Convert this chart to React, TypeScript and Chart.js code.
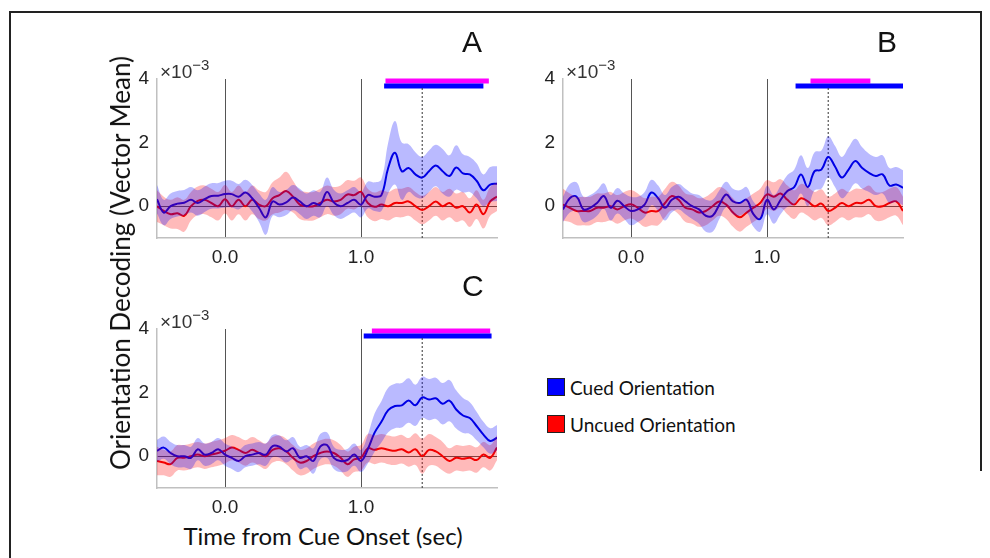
import React, { useEffect, useRef } from 'react';
import { Chart, registerables } from 'chart.js';
Chart.register(...registerables);

// time axis (sec)
const TIME = [-0.5,-0.45,-0.4,-0.35,-0.3,-0.25,-0.2,-0.15,-0.1,-0.05,0,0.05,0.1,0.15,0.2,0.25,0.3,0.35,0.4,0.45,0.5,0.55,0.6,0.65,0.7,0.75,0.8,0.85,0.9,0.95,1,1.05,1.1,1.15,1.2,1.25,1.3,1.35,1.4,1.45,1.5,1.55,1.6,1.65,1.7,1.75,1.8,1.85,1.9,1.95,2];

// Panel A (x10^-3)
const A_CUED = [0.22,-0.2,0.0,0.08,0.11,0.2,0.1,0.22,0.32,0.33,0.38,0.38,0.3,0.43,0.25,-0.05,-0.35,0.15,0.05,0.12,0.27,0.15,0.0,0.1,0.05,0.45,0.12,0.0,0.1,0.2,0.05,0.35,0.3,0.35,1.2,1.68,1.1,1.2,1.0,0.9,1.1,1.28,1.1,0.95,1.22,1.03,1.0,0.8,0.5,0.68,0.71];
const A_CUED_ERR = [0.45,0.4,0.4,0.4,0.4,0.4,0.4,0.4,0.4,0.4,0.42,0.42,0.4,0.4,0.42,0.45,0.55,0.45,0.4,0.4,0.4,0.4,0.4,0.4,0.4,0.45,0.4,0.4,0.4,0.4,0.4,0.42,0.45,0.5,0.8,1.0,0.9,0.75,0.7,0.65,0.65,0.65,0.7,0.65,0.7,0.6,0.55,0.55,0.5,0.55,0.55];
const A_UNCUED = [0.0,-0.15,-0.25,-0.22,-0.3,0.0,0.17,0.2,0.1,0.0,0.22,0.0,0.2,0.0,0.2,0.05,0.0,0.25,0.35,0.48,0.3,0.05,0.0,0.0,0.1,0.2,0.15,0.2,0.37,0.35,0.45,0.1,-0.02,0.05,0.0,0.1,0.1,0.15,0.0,-0.12,0.0,0.15,0.0,0.1,-0.05,0.0,-0.2,0.05,-0.25,0.15,0.3];
const A_UNCUED_ERR = [0.5,0.45,0.45,0.5,0.5,0.45,0.45,0.45,0.45,0.45,0.45,0.45,0.45,0.45,0.45,0.45,0.45,0.5,0.55,0.6,0.5,0.45,0.45,0.45,0.45,0.45,0.45,0.45,0.45,0.45,0.45,0.45,0.45,0.45,0.45,0.45,0.45,0.45,0.45,0.45,0.45,0.45,0.45,0.45,0.45,0.45,0.45,0.45,0.45,0.45,0.45];

// Panel B
const B_CUED = [-0.1,0.25,0.3,-0.1,-0.05,0.1,0.32,-0.05,0.17,0.0,-0.15,-0.1,0.05,0.43,0.25,-0.05,0.2,0.3,0.15,0.0,-0.1,-0.3,-0.3,0.05,0.37,0.15,0.1,0.2,-0.25,-0.4,0.2,-0.1,0.2,0.48,0.6,1.0,0.6,1.1,1.15,1.55,1.25,0.9,1.15,1.42,1.2,1.05,0.95,1.0,0.65,0.68,0.58];
const B_CUED_ERR = [0.4,0.45,0.45,0.4,0.4,0.4,0.4,0.4,0.4,0.4,0.45,0.4,0.4,0.4,0.4,0.4,0.4,0.4,0.4,0.4,0.45,0.5,0.5,0.45,0.4,0.4,0.4,0.4,0.4,0.4,0.45,0.45,0.45,0.5,0.55,0.6,0.6,0.6,0.6,0.65,0.65,0.65,0.7,0.7,0.65,0.6,0.6,0.6,0.55,0.55,0.55];
const B_UNCUED = [0.05,-0.05,-0.15,-0.15,-0.15,-0.05,-0.05,0.0,-0.1,0.0,0.06,-0.05,-0.2,-0.15,-0.15,0.1,0.32,0.2,-0.05,-0.1,-0.2,-0.15,0.0,0.15,0.05,-0.2,-0.35,-0.2,-0.05,0.1,0.37,0.3,0.4,0.2,0.05,0.25,0.15,0.0,0.08,-0.15,-0.05,0.1,0.0,0.1,0.1,0.2,0.0,0.0,0.1,0.15,-0.15];
const B_UNCUED_ERR = [0.5,0.45,0.45,0.45,0.45,0.45,0.45,0.45,0.45,0.45,0.45,0.45,0.45,0.45,0.45,0.45,0.45,0.45,0.45,0.45,0.45,0.45,0.45,0.45,0.45,0.45,0.45,0.45,0.45,0.45,0.45,0.45,0.45,0.45,0.45,0.45,0.45,0.45,0.45,0.45,0.45,0.45,0.45,0.45,0.45,0.45,0.45,0.45,0.45,0.45,0.45];

// Panel C
const C_CUED = [0.17,0.27,0.1,0.0,0.0,-0.05,0.22,0.05,0.1,0.22,0.05,-0.05,-0.15,0.0,0.05,0.1,0.05,0.32,0.3,0.15,0.25,-0.05,0.0,-0.15,0.3,0.35,-0.05,-0.15,-0.12,0.05,-0.15,0.22,0.74,1.08,1.45,1.58,1.6,1.75,1.6,1.85,1.78,1.82,1.65,1.75,1.47,1.28,1.2,0.95,0.68,0.48,0.58];
const C_CUED_ERR = [0.35,0.35,0.35,0.35,0.35,0.35,0.35,0.35,0.35,0.35,0.35,0.35,0.35,0.35,0.35,0.35,0.35,0.35,0.35,0.35,0.35,0.35,0.35,0.4,0.4,0.4,0.35,0.35,0.35,0.35,0.35,0.45,0.6,0.65,0.7,0.7,0.7,0.7,0.65,0.65,0.65,0.65,0.65,0.65,0.6,0.55,0.5,0.45,0.4,0.4,0.4];
const C_UNCUED = [-0.15,-0.2,-0.25,-0.05,-0.05,0.0,0.05,0.0,0.05,0.1,0.17,0.27,0.2,0.1,0.2,0.1,0.0,0.2,0.25,0.15,-0.05,-0.2,-0.15,0.0,0.1,0.15,0.1,-0.05,-0.25,-0.1,-0.05,0.25,0.2,0.25,0.2,0.17,0.22,0.12,0.22,0.0,0.2,0.15,0.0,-0.15,-0.05,-0.08,-0.05,-0.12,0.05,-0.05,0.27];
const C_UNCUED_ERR = [0.45,0.4,0.4,0.4,0.4,0.4,0.4,0.4,0.4,0.4,0.4,0.4,0.4,0.4,0.4,0.4,0.4,0.4,0.4,0.4,0.4,0.4,0.4,0.4,0.4,0.4,0.4,0.4,0.4,0.4,0.4,0.45,0.45,0.45,0.45,0.45,0.45,0.45,0.5,0.55,0.5,0.45,0.45,0.4,0.4,0.4,0.4,0.4,0.4,0.4,0.4];

// significance bars [start, end] (sec)
const A_SIG_DIFF = [1.18, 1.94];
const A_SIG_CUED = [1.17, 1.90];
const B_SIG_DIFF = [1.32, 1.76];
const B_SIG_CUED = [1.21, 2.0];
const C_SIG_DIFF = [1.08, 1.95];
const C_SIG_CUED = [1.02, 1.96];
const PEAK_TIME = 1.45;

const X_TICKS = [0, 1];
const Y_TICKS = [0, 2, 4];

const BLUE = '#0000dc';
const RED = '#ee0000';
const BLUE_BAND = 'rgba(0,0,255,0.27)';
const RED_BAND = 'rgba(255,0,0,0.27)';

function pts(vals: number[], err?: number[], sign = 0) {
  return TIME.map((t, i) => ({ x: t, y: vals[i] + (err ? sign * err[i] : 0) }));
}

function makeConfig(cued: number[], cuedErr: number[], unc: number[], uncErr: number[], sigDiff: number[], sigCued: number[]): any {
  const line = { pointRadius: 0, tension: 0.4, fill: false };
  return {
    type: 'line',
    data: {
      datasets: [
        { ...line, data: pts(cued, cuedErr, -1), borderWidth: 0, borderColor: 'transparent' },
        { ...line, data: pts(cued, cuedErr, 1), borderWidth: 0, borderColor: 'transparent', fill: '-1', backgroundColor: BLUE_BAND },
        { ...line, data: pts(unc, uncErr, -1), borderWidth: 0, borderColor: 'transparent' },
        { ...line, data: pts(unc, uncErr, 1), borderWidth: 0, borderColor: 'transparent', fill: '-1', backgroundColor: RED_BAND },
        { ...line, data: pts(cued), borderWidth: 2, borderColor: BLUE },
        { ...line, data: pts(unc), borderWidth: 2, borderColor: RED },
        { ...line, tension: 0, data: [{ x: PEAK_TIME, y: -1 }, { x: PEAK_TIME, y: 3.72 }], borderWidth: 1, borderColor: '#333', borderDash: [2, 2] },
        { ...line, tension: 0, clip: 8, data: [{ x: sigCued[0], y: 3.78 }, { x: sigCued[1], y: 3.78 }], borderWidth: 5, borderColor: '#0000ff', borderCapStyle: 'butt' },
        { ...line, tension: 0, clip: 8, data: [{ x: sigDiff[0], y: 3.94 }, { x: sigDiff[1], y: 3.94 }], borderWidth: 5, borderColor: '#ff00ff', borderCapStyle: 'butt' },
      ],
    },
    options: {
      animation: false,
      responsive: false,
      devicePixelRatio: 1,
      layout: { padding: { top: 24, right: 13, left: 0, bottom: 0 } },
      plugins: { legend: { display: false }, tooltip: { enabled: false } },
      scales: {
        x: {
          type: 'linear', min: -0.5, max: 2.0,
          afterBuildTicks: (s: any) => { s.ticks = X_TICKS.map((v) => ({ value: v })); },
          afterFit: (s: any) => { s.height = 32; },
          ticks: { callback: (v: any) => Number(v).toFixed(1), font: { family: 'Liberation Sans', size: 19 }, color: '#222', padding: 8, maxRotation: 0 },
          grid: { color: '#555', lineWidth: 1, drawTicks: false },
          border: { color: '#c0c0c0', width: 1.5 },
        },
        y: {
          type: 'linear', min: -1, max: 4,
          afterBuildTicks: (s: any) => { s.ticks = Y_TICKS.map((v) => ({ value: v })); },
          afterFit: (s: any) => { s.width = 57; },
          ticks: { font: { family: 'Liberation Sans', size: 19 }, color: '#222', padding: 8 },
          grid: { color: (c: any) => (c.tick && c.tick.value === 0 ? '#555' : 'transparent'), lineWidth: 1, drawTicks: false },
          border: { color: '#c0c0c0', width: 1.5 },
        },
      },
    },
  };
}

function Panel(props: { left: number; top: number; cfg: () => any }) {
  const ref = useRef<HTMLCanvasElement>(null);
  useEffect(() => {
    const chart = new Chart(ref.current as HTMLCanvasElement, props.cfg());
    return () => chart.destroy();
  }, []);
  return (
    <canvas ref={ref} width={410} height={215}
      style={{ position: 'absolute', left: props.left, top: props.top, width: 410, height: 215 }} />
  );
}

const abs = (l: number, t: number, extra: any = {}) => ({ position: 'absolute' as const, left: l, top: t, whiteSpace: 'nowrap' as const, ...extra });

function Exponent(props: { left: number; top: number }) {
  return (
    <div style={abs(props.left, props.top, { fontFamily: 'Liberation Sans', fontSize: 19, color: '#333', lineHeight: '19px' })}>
      ×10<sup style={{ fontSize: 15, verticalAlign: 'top', position: 'relative', top: -7 }}>−3</sup>
    </div>
  );
}

export default function App() {
  const letter = { fontFamily: 'Liberation Sans', fontSize: 30, color: '#111', lineHeight: '30px' };
  const legend = { fontFamily: 'Lato', fontSize: 19, color: '#111', lineHeight: '19px' };
  return (
    <div style={{ position: 'absolute', left: 0, top: 0, width: 990, height: 558, background: '#fff', overflow: 'hidden' }}>
      <div style={{ position: 'absolute', left: 9, top: 11, width: 973, height: 2, background: '#222' }} />
      <div style={{ position: 'absolute', left: 9, top: 11, width: 2, height: 547, background: '#222' }} />
      <div style={{ position: 'absolute', left: 980, top: 11, width: 2, height: 460, background: '#222' }} />

      <Panel left={100} top={55} cfg={() => makeConfig(A_CUED, A_CUED_ERR, A_UNCUED, A_UNCUED_ERR, A_SIG_DIFF, A_SIG_CUED)} />
      <Panel left={506} top={55} cfg={() => makeConfig(B_CUED, B_CUED_ERR, B_UNCUED, B_UNCUED_ERR, B_SIG_DIFF, B_SIG_CUED)} />
      <Panel left={100} top={305} cfg={() => makeConfig(C_CUED, C_CUED_ERR, C_UNCUED, C_UNCUED_ERR, C_SIG_DIFF, C_SIG_CUED)} />

      <Exponent left={160} top={62} />
      <Exponent left={566} top={62} />
      <Exponent left={160} top={312} />

      <div style={abs(462, 27, letter)}>A</div>
      <div style={abs(877, 27, letter)}>B</div>
      <div style={abs(462, 271, letter)}>C</div>

      <div style={abs(120, 263, { fontFamily: 'Lato', fontSize: 26, color: '#111', lineHeight: '26px', transform: 'translate(-50%, -50%) rotate(-90deg)' })}>Orientation Decoding (Vector Mean)</div>
      <div style={abs(323, 536, { fontFamily: 'Lato', fontSize: 24, color: '#111', lineHeight: '24px', transform: 'translate(-50%, -50%)' })}>Time from Cue Onset (sec)</div>

      <div style={abs(547, 378, { width: 16, height: 16, background: '#0000ff', border: '1px solid #222' })} />
      <div style={abs(570, 378, legend)}>Cued Orientation</div>
      <div style={abs(547, 415, { width: 16, height: 16, background: '#ff0000', border: '1px solid #222' })} />
      <div style={abs(570, 415, legend)}>Uncued Orientation</div>
    </div>
  );
}
